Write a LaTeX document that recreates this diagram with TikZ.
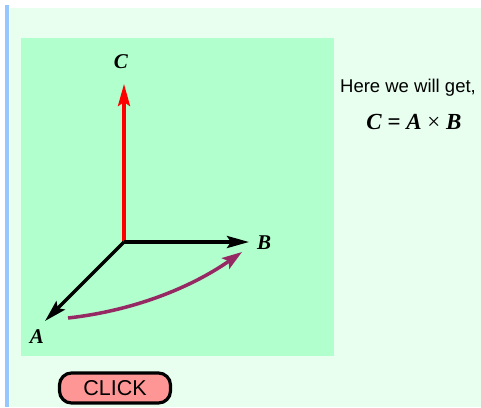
\documentclass[tikz,border=0pt]{standalone}
\usepackage{fontspec}
\setmainfont{Liberation Serif}
\setsansfont{Liberation Sans}
\usetikzlibrary{arrows.meta}
\definecolor{pagebg}{RGB}{232,255,240}
\definecolor{panelbg}{RGB}{176,255,204}
\definecolor{sidebar}{RGB}{150,200,255}
\definecolor{curvecol}{RGB}{150,40,100}
\definecolor{btnfill}{RGB}{255,150,150}
\tikzset{
  vec/.style={line width=3.5pt,-{Stealth[length=22pt,width=12pt,inset=4pt]}},
  veclabel/.style={font=\fontsize{21}{21}\selectfont\bfseries\itshape},
  sidetext/.style={font=\sffamily\fontsize{18.5}{20}\selectfont},
  button/.style={draw=black,line width=3.2pt,fill=btnfill,rounded corners=12pt,minimum width=111pt,minimum height=30pt,font=\sffamily\fontsize{21.5}{22}\selectfont}
}
\begin{document}
\begin{tikzpicture}[x=1pt,y=-1pt]
\useasboundingbox (0,0) rectangle (481,407);
\fill[white] (0,0) rectangle (481,407);
\fill[pagebg] (10,8) rectangle (481,407);
\fill[sidebar] (5,5) rectangle (9,407);
\fill[panelbg] (21,38) rectangle (334,356);
\coordinate (O) at (124,242);
\coordinate (Ctip) at (124,84);
\coordinate (Btip) at (249,242);
\coordinate (Atip) at (45,321);
\coordinate (Cs) at (68,318);
\coordinate (Ce) at (242,252);
\draw[vec,red] (O) -- (Ctip);
\draw[vec,black] (O) -- (Btip);
\draw[vec,black] (O) -- (Atip);
\draw[line width=3.5pt,curvecol,-{Stealth[length=20pt,width=13pt,inset=4pt]}] (Cs) .. controls (131,311) and (189,289) .. (Ce);
\node[veclabel] (lC) at (121,62) {C};
\node[veclabel] (lB) at (264,243) {B};
\node[veclabel] (lA) at (37,337) {A};
\node[sidetext] (t1) at (408,88) {Here we will get,};
\node[font=\fontsize{23}{23}\selectfont] (t2) at (414,122) {\bfseries\itshape C\ \upshape=\ \itshape A\ \mdseries\upshape×\ \bfseries\itshape B};
\node[button] (btn) at (115,388) {CLICK};
\end{tikzpicture}
\end{document}
